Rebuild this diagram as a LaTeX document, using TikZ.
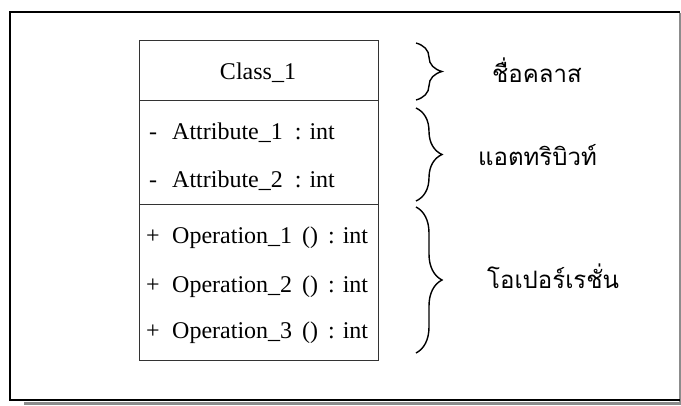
\documentclass[tikz,border=0pt]{standalone}
\usepackage{fontspec}
\setmainfont{Liberation Serif}
\newfontfamily\thaifont[Script=Thai]{Loma}
\usetikzlibrary{positioning,calc,decorations.pathreplacing}

\begin{document}
\begin{tikzpicture}[x=1pt,y=-1pt,
    every node/.style={font=\fontsize{24}{28}\selectfont, inner sep=0pt},
    thai/.style={font=\thaifont\fontsize{24}{28}\selectfont, anchor=base west},
    curly/.style={decorate, decoration={brace, amplitude=26pt}, line width=1.4pt},
    boxline/.style={line width=1pt, black!80}]
    \useasboundingbox (0,0) rectangle (681,405);

    % Frame with shadow
    \draw[line width=3pt, black!45] (24,403) -- (681,403);
    \draw[line width=1.5pt, black!45] (680,13) -- (680,403);
    \draw[line width=2pt] (680,12) -- (10,12) -- (10,400) -- (680,400);

    % Class box
    \draw[boxline] (139,40) rectangle (378,360);
    \draw[boxline] (139,100) -- (378,100);
    \draw[boxline] (139,204) -- (378,204);

    % Name
    \node[anchor=base] (cname) at (258,79) {Class\_1};

    % Attributes
    \foreach \y/\n in {139/1, 187/2} {
        \node[anchor=base] (amark\n) at (153,\y) {-};
        \node[anchor=base west] (attr\n) at (172,\y) {Attribute\_\n\ \ : int};
    }

    % Operations
    \foreach \y/\n in {243/1, 292/2, 338/3} {
        \node[anchor=base] (omark\n) at (153,\y) {+};
        \node[anchor=base west] (oper\n) at (172,\y) {Operation\_\n\,\ ()\,\ : int};
    }

    % Braces
    \draw[curly] (416,43) -- (416,100);
    \draw[curly] (416,108) -- (416,201);
    \draw[curly] (416,207) -- (416,353);

    % Labels
    \node[thai] (lname) at (492,82) {ชื่อคลาส};
    \node[thai] (lattr) at (478,165) {แอตทริบิวท์};
    \node[thai] (loper) at (487,288) {โอเปอร์เรชั่น};
\end{tikzpicture}
\end{document}
